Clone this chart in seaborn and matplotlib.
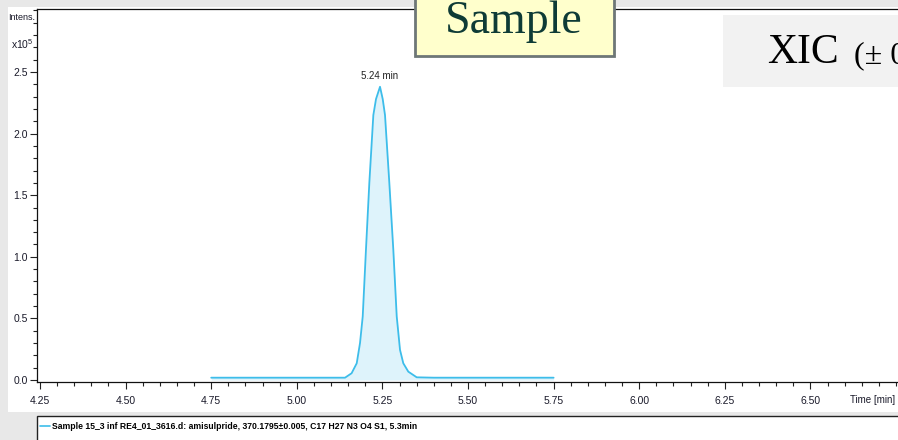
import numpy as np
import pandas as pd
import matplotlib
matplotlib.use("Agg")
import matplotlib.pyplot as plt
import seaborn as sns
from matplotlib.ticker import MultipleLocator, FixedLocator
from matplotlib.patches import Rectangle
from matplotlib.lines import Line2D

# ---------------- data ----------------
time_min = [4.75, 5.10, 5.1408, 5.160, 5.175, 5.1846, 5.1925, 5.202, 5.2118,
            5.2235, 5.2313, 5.243, 5.2509, 5.2576, 5.2702, 5.2818, 5.2918,
            5.3014, 5.3110, 5.3256, 5.3502, 5.40, 5.75]
intensity_e5 = [0.019, 0.019, 0.019, 0.055, 0.136, 0.30, 0.516, 1.06, 1.60,
                2.15, 2.28, 2.38, 2.28, 2.15, 1.60, 1.06, 0.516,
                0.245, 0.136, 0.068, 0.022, 0.019, 0.019]
x_ticks = [4.25, 4.50, 4.75, 5.00, 5.25, 5.50, 5.75, 6.00, 6.25, 6.50]
x_tick_labels = ["4.25", "4.50", "4.75", "5.00", "5.25", "5.50", "5.75", "6.00", "6.25", "6.50"]
y_ticks = [0.0, 0.5, 1.0, 1.5, 2.0, 2.5]
y_tick_labels = ["0.0", "0.5", "1.0", "1.5", "2.0", "2.5"]
peak_time = 5.243
peak_value = 2.38
peak_label = "5.24 min"
legend_label = "Sample 15_3 inf RE4_01_3616.d: amisulpride, 370.1795\u00b10.005, C17 H27 N3 O4 S1, 5.3min"
title_box = "Sample"
xic_main = "XIC"
xic_rest = " (\u00b1 0.005 Da)"

df = pd.DataFrame({"time": time_min, "intensity": intensity_e5})

# ---------------- style ----------------
sns.set_theme(style="ticks")
NARROW = ["Liberation Sans Narrow", "Liberation Sans", "DejaVu Sans"]
plt.rcParams["font.family"] = NARROW
plt.rcParams["mathtext.default"] = "regular"

W, H = 898, 440
fig = plt.figure(figsize=(W / 100, H / 100), dpi=100)
fig.patch.set_facecolor("#E8E8E8")

def fx(px):
    return px / W

def fy(py):
    return 1 - py / H

# white panel behind the chart
fig.patches.append(Rectangle((fx(8), fy(412)), 1 - fx(8), fy(7) - fy(412),
                             transform=fig.transFigure, facecolor="white",
                             edgecolor="none", zorder=-1))

ax = fig.add_axes([fx(37), fy(382), fx(897) - fx(37), fy(9) - fy(382)])
ax.set_facecolor("white")

line_color = "#3DBDEA"
fill_color = "#DEF3FB"

ax.fill_between(df["time"], 0, df["intensity"], color=fill_color, lw=0, zorder=1)
sns.lineplot(data=df, x="time", y="intensity", color=line_color, lw=1.3,
             ax=ax, zorder=2)

ax.set_xlim(4.2412, 6.7529)
ax.set_ylim(-0.016, 3.011)

ax.xaxis.set_major_locator(FixedLocator(x_ticks))
ax.set_xticklabels(x_tick_labels)
ax.xaxis.set_minor_locator(MultipleLocator(0.05))
ax.yaxis.set_major_locator(FixedLocator(y_ticks))
ax.set_yticklabels(y_tick_labels)
ax.yaxis.set_minor_locator(MultipleLocator(0.1))

ax.tick_params(axis="both", which="major", direction="out", length=5,
               width=0.8, color="#222222", labelsize=7.5, labelcolor="#1a1a2a")
ax.tick_params(axis="both", which="minor", direction="out", length=3,
               width=0.8, color="#222222")
ax.tick_params(axis="x", which="major", pad=5)
ax.tick_params(axis="y", which="major", pad=1.5)

for s in ["left", "bottom", "top"]:
    ax.spines[s].set_color("#111111")
    ax.spines[s].set_linewidth(0.9)
ax.spines["right"].set_visible(False)
ax.set_xlabel("")
ax.set_ylabel("")

# peak annotation
ax.annotate(peak_label, xy=(peak_time, peak_value), xytext=(0, 8),
            textcoords="offset points", ha="center", va="center",
            fontsize=7, color="#222222")

# axis captions
fig.text(fx(895), fy(400), "Time [min]", ha="right", va="center",
         fontsize=7, color="#1a1a2a")
fig.text(fx(22), fy(17), "Intens.", ha="center", va="center",
         fontsize=6.5, color="#1a1a2a")
fig.text(fx(34), fy(44), "x10$^5$", ha="right", va="center",
         fontsize=7.5, color="#1a1a2a")

# legend box at the bottom
fig.patches.append(Rectangle((fx(37), fy(445)), fx(905) - fx(37), fy(416) - fy(445),
                             transform=fig.transFigure, facecolor="white",
                             edgecolor="#222222", lw=1, zorder=5))
fig.lines.append(Line2D([fx(40), fx(50)], [fy(426), fy(426)],
                        transform=fig.transFigure, color=line_color, lw=1.2,
                        zorder=6))
fig.text(fx(52), fy(426), legend_label, ha="left", va="center",
         fontsize=6.2, fontweight="bold", color="black", zorder=6)

# "Sample" box
fig.patches.append(Rectangle((fx(415), fy(56)), fx(614) - fx(415), fy(-6) - fy(56),
                             transform=fig.transFigure, facecolor="#FFFFCC",
                             edgecolor="#6E7777", lw=2, zorder=7))
fig.text(fx(514), fy(33), title_box, ha="center", va="baseline",
         fontsize=33, color="#0E3B36", family=["Liberation Serif", "DejaVu Serif"],
         zorder=8)

# "XIC" box
fig.patches.append(Rectangle((fx(723), fy(87)), fx(905) - fx(723), fy(15) - fy(87),
                             transform=fig.transFigure, facecolor="#F2F2F2",
                             edgecolor="none", zorder=7))
fig.text(fx(767), fy(63), xic_main, ha="left", va="baseline",
         fontsize=30, color="black", family=["Liberation Serif", "DejaVu Serif"],
         zorder=8)
fig.text(fx(846), fy(63), xic_rest, ha="left", va="baseline",
         fontsize=23, color="black", family=["Liberation Serif", "DejaVu Serif"],
         zorder=8)

fig.savefig("out.png", dpi=100, facecolor=fig.get_facecolor())
